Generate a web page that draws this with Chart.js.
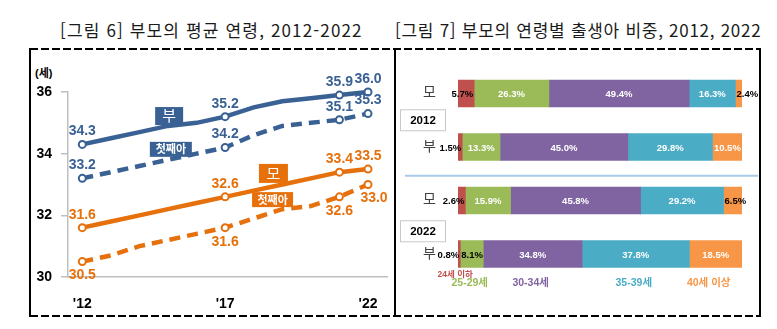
<!DOCTYPE html>
<html lang="ko">
<head>
<meta charset="utf-8">
<script src="https://cdn.jsdelivr.net/npm/chart.js@4.4.1/dist/chart.umd.min.js"></script>
<style>
  html, body { margin: 0; padding: 0; background: #fff; }
  body { width: 777px; height: 329px; position: relative; overflow: hidden; }
  .title { position: absolute; top: 18px; font-family: 'Noto Sans CJK KR', sans-serif; font-size: 17px; color: #1a1a1a; white-space: pre; line-height: 24px; }
  .dash { position: absolute; height: 2px; background: repeating-linear-gradient(90deg, #000 0 8px, transparent 8px 11px); }
  .vline { position: absolute; width: 2px; background: #000; }
  .unit { position: absolute; left: 35px; top: 64px; font: bold 11px 'Liberation Sans', 'Noto Sans CJK KR', sans-serif; color: #000; }
  canvas { position: absolute; }
</style>
</head>
<body>
<div class="title" style="left:60px; letter-spacing:1.15px;">[그림 6] 부모의 평균 연령, 2012-2022</div>
<div class="title" style="left:395px; letter-spacing:0.72px;">[그림 7] 부모의 연령별 출생아 비중, 2012, 2022</div>

<div class="dash" style="left:30px; top:48px; width:731px;"></div>
<div class="dash" style="left:30px; top:315px; width:731px;"></div>
<div class="vline" style="left:29px; top:48px; height:269px;"></div>
<div class="vline" style="left:394px; top:48px; height:269px;"></div>
<div class="vline" style="left:759px; top:48px; height:269px;"></div>
<div class="unit">(세)</div>

<canvas id="ageChart" width="358" height="267" style="left:30px; top:49px;"></canvas>
<canvas id="shareChart" width="364" height="265" style="left:396px; top:50px;"></canvas>

<script>
// ---- average age of parents, 2012-2022
const years = [2012, 2013, 2014, 2015, 2016, 2017, 2018, 2019, 2020, 2021, 2022];
const fatherAge      = [34.3, 34.5, 34.7, 34.9, 35.0, 35.2, 35.5, 35.7, 35.8, 35.9, 36.0];
const fatherFirstAge = [33.2, 33.4, 33.6, 33.8, 34.0, 34.2, 34.6, 34.9, 35.0, 35.1, 35.3];
const motherAge      = [31.6, 31.8, 32.0, 32.2, 32.4, 32.6, 32.8, 33.0, 33.2, 33.4, 33.5];
const motherFirstAge = [30.5, 30.7, 31.0, 31.2, 31.4, 31.6, 31.9, 32.2, 32.3, 32.6, 33.0];
const markedYears = [2012, 2017, 2021, 2022];
const xTickYears = [2012, 2017, 2022];
const xTickLabels = ["'12", "'17", "'22"];
const yTickValues = [30, 32, 34, 36];

// ---- share of births by parent age group, 2012 / 2022
const rowLabels = ['모', '부', '모', '부'];
const rowYears = ['2012', '2022'];
const ageGroups = ['24세 이하', '25-29세', '30-34세', '35-39세', '40세 이상'];
const under25  = [5.7, 1.5, 2.6, 0.8];
const age25to29 = [26.3, 13.3, 15.9, 8.1];
const age30to34 = [49.4, 45.0, 45.8, 34.8];
const age35to39 = [16.3, 29.8, 29.2, 37.8];
const over40   = [2.4, 10.5, 6.5, 18.5];

const BLUE = '#3a6194';
const ORANGE = '#e6700c';
const SANS = "'Liberation Sans', 'Noto Sans CJK KR', sans-serif";
Chart.defaults.font.family = SANS;

function series(vals) {
  return years.map((y, i) => ({ x: y, y: vals[i] }));
}
function markRadius(r) {
  return years.map(y => markedYears.includes(y) ? r : 0);
}
function lineSet(label, vals, color, dashed, labelPos) {
  return {
    label: label,
    data: series(vals),
    borderColor: color,
    borderWidth: 4.5,
    borderDash: dashed ? [11, 7] : [],
    borderCapStyle: 'butt',
    pointRadius: markRadius(3.5),
    pointBorderWidth: 2,
    pointBackgroundColor: '#fff',
    pointBorderColor: color,
    tension: 0,
    clip: false,
    labelPos: labelPos
  };
}

// name tags sitting on the lines, placed in data units
const lineTags = [
  { text: '부',    x: 2015.04, y: 35.22, w: 28, h: 18, color: BLUE,   font: '15px ' + SANS },
  { text: '첫째아', x: 2015.1,  y: 34.14, w: 42, h: 15, color: BLUE,   font: 'bold 11px ' + SANS },
  { text: '모',    x: 2018.69, y: 33.36, w: 29, h: 19, color: ORANGE, font: '15px ' + SANS },
  { text: '첫째아', x: 2018.66, y: 32.51, w: 41, h: 15, color: ORANGE, font: 'bold 11px ' + SANS }
];

const agePlugin = {
  id: 'ageLabels',
  afterDatasetsDraw(chart) {
    const ctx = chart.ctx;
    const xs = chart.scales.x, ys = chart.scales.y;
    ctx.save();
    ctx.textAlign = 'center';
    ctx.textBaseline = 'middle';
    lineTags.forEach(t => {
      const cx = xs.getPixelForValue(t.x), cy = ys.getPixelForValue(t.y);
      ctx.fillStyle = t.color;
      ctx.fillRect(cx - t.w / 2, cy - t.h / 2, t.w, t.h);
      ctx.fillStyle = '#fff';
      ctx.font = t.font;
      ctx.fillText(t.text, cx, cy + 1);
    });
    ctx.font = 'bold 14px ' + SANS;
    chart.data.datasets.forEach((ds, di) => {
      const meta = chart.getDatasetMeta(di);
      meta.data.forEach((pt, i) => {
        if (!markedYears.includes(years[i])) return;
        const below = ds.labelPos === 'below';
        const dx = below && i === years.length - 1 ? 6 : 0;
        ctx.fillStyle = ds.borderColor;
        ctx.fillText(ds.data[i].y.toFixed(1), pt.x + dx, pt.y + (below ? 14 : -13));
      });
    });
    ctx.restore();
  }
};

new Chart(document.getElementById('ageChart'), {
  type: 'line',
  data: {
    datasets: [
      lineSet('부', fatherAge, BLUE, false, 'above'),
      lineSet('부 첫째아', fatherFirstAge, BLUE, true, 'above'),
      lineSet('모', motherAge, ORANGE, false, 'above'),
      lineSet('모 첫째아', motherFirstAge, ORANGE, true, 'below')
    ]
  },
  options: {
    responsive: false,
    animation: false,
    layout: { autoPadding: false, padding: { top: 43, right: 0, left: 0, bottom: 0 } },
    plugins: { legend: { display: false }, tooltip: { enabled: false } },
    scales: {
      x: {
        type: 'linear',
        min: 2011.5,
        max: 2022.7,
        afterBuildTicks: s => { s.ticks = xTickYears.map(v => ({ value: v })); },
        afterFit: s => { s.height = 39; s.paddingLeft = 0; s.paddingRight = 0; },
        grid: { display: false },
        border: { color: '#bfbfbf', width: 1.5 },
        ticks: {
          padding: 11,
          color: '#000',
          font: { size: 14, weight: 'bold' },
          callback: v => xTickLabels[xTickYears.indexOf(v)]
        }
      },
      y: {
        min: 30,
        max: 36,
        afterBuildTicks: s => { s.ticks = yTickValues.map(v => ({ value: v })); },
        afterFit: s => { s.width = 38; },
        grid: { drawOnChartArea: false, drawTicks: true, tickLength: 7, color: '#bfbfbf', lineWidth: 1.5 },
        border: { color: '#bfbfbf', width: 1.5 },
        ticks: { padding: 9, color: '#000', font: { size: 14, weight: 'bold' } }
      }
    }
  },
  plugins: [agePlugin]
});

// ---- stacked share bars
const SHARE_COLORS = ['#c0504d', '#9bbb59', '#8064a2', '#4bacc6', '#f79646'];
const shareValues = [under25, age25to29, age30to34, age35to39, over40];

const sharePlugin = {
  id: 'shareLabels',
  afterDatasetsDraw(chart) {
    const ctx = chart.ctx;
    const ys = chart.scales.y;
    const last = chart.data.datasets.length - 1;
    ctx.save();
    ctx.textBaseline = 'middle';

    // value labels on each segment
    ctx.font = 'bold 9.5px ' + SANS;
    chart.data.datasets.forEach((ds, di) => {
      chart.getDatasetMeta(di).data.forEach((bar, i) => {
        const p = bar.getProps(['x', 'y', 'base'], true);
        const left = Math.min(p.x, p.base), right = Math.max(p.x, p.base);
        const txt = ds.data[i].toFixed(1) + '%';
        const w = ctx.measureText(txt).width;
        let x = (left + right) / 2, align = 'center', color = '#fff';
        if (di === 0) { x = right - 1; align = 'right'; color = '#000'; }
        else if (right - left < w + 2) { x = left + 1; align = 'left'; color = '#000'; }
        else if (di === last && ds.data[i] < 10) color = '#000';
        ctx.textAlign = align;
        ctx.fillStyle = color;
        ctx.fillText(txt, x, p.y + 1);
      });
    });

    // divider between the two years
    const mid = (ys.getPixelForValue(1) + ys.getPixelForValue(2)) / 2;
    ctx.strokeStyle = '#a8c9e8';
    ctx.lineWidth = 2;
    ctx.beginPath();
    ctx.moveTo(9, mid + 2);
    ctx.lineTo(362, mid + 2);
    ctx.stroke();

    // year tags
    ctx.font = 'bold 11.5px ' + SANS;
    ctx.textAlign = 'center';
    rowYears.forEach((yr, k) => {
      const cy = (ys.getPixelForValue(2 * k) + ys.getPixelForValue(2 * k + 1)) / 2 + k * 4;
      ctx.fillStyle = '#fff';
      ctx.fillRect(4.5, cy - 10.5, 45, 21);
      ctx.strokeStyle = '#c8c8c8';
      ctx.lineWidth = 1;
      ctx.strokeRect(4.5, cy - 10.5, 45, 21);
      ctx.fillStyle = '#000';
      ctx.fillText(yr, 27, cy + 1);
    });

    // age group names under the last row
    const lastRow = chart.data.labels.length - 1;
    chart.data.datasets.forEach((ds, di) => {
      const bar = chart.getDatasetMeta(di).data[lastRow];
      const p = bar.getProps(['x', 'y', 'base', 'height'], true);
      const cx = (p.x + p.base) / 2;
      const bottom = p.y + p.height / 2;
      ctx.fillStyle = ds.backgroundColor;
      if (di === 0) {
        ctx.font = 'bold 8.5px ' + SANS;
        ctx.fillText(ds.label, cx - 4, bottom + 7);
      } else {
        ctx.font = 'bold 10.5px ' + SANS;
        ctx.fillText(ds.label, cx - (di === last ? 7 : 2), bottom + 16);
      }
    });
    ctx.restore();
  }
};

new Chart(document.getElementById('shareChart'), {
  type: 'bar',
  data: {
    labels: rowLabels,
    datasets: ageGroups.map((g, k) => ({
      label: g,
      data: shareValues[k],
      backgroundColor: SHARE_COLORS[k],
      borderWidth: 0,
      barThickness: 27
    }))
  },
  options: {
    indexAxis: 'y',
    responsive: false,
    animation: false,
    layout: { autoPadding: false, padding: { top: 16.75, right: 18, bottom: 34.25, left: 0 } },
    plugins: { legend: { display: false }, tooltip: { enabled: false } },
    scales: {
      x: { stacked: true, min: 0, max: 100, display: false },
      y: {
        stacked: true,
        afterFit: s => { s.width = 62; s.paddingTop = 0; s.paddingBottom = 0; },
        grid: { display: false },
        border: { display: false },
        ticks: { padding: 14, color: '#404040', font: { size: 14 } }
      }
    }
  },
  plugins: [sharePlugin]
});
</script>
</body>
</html>
